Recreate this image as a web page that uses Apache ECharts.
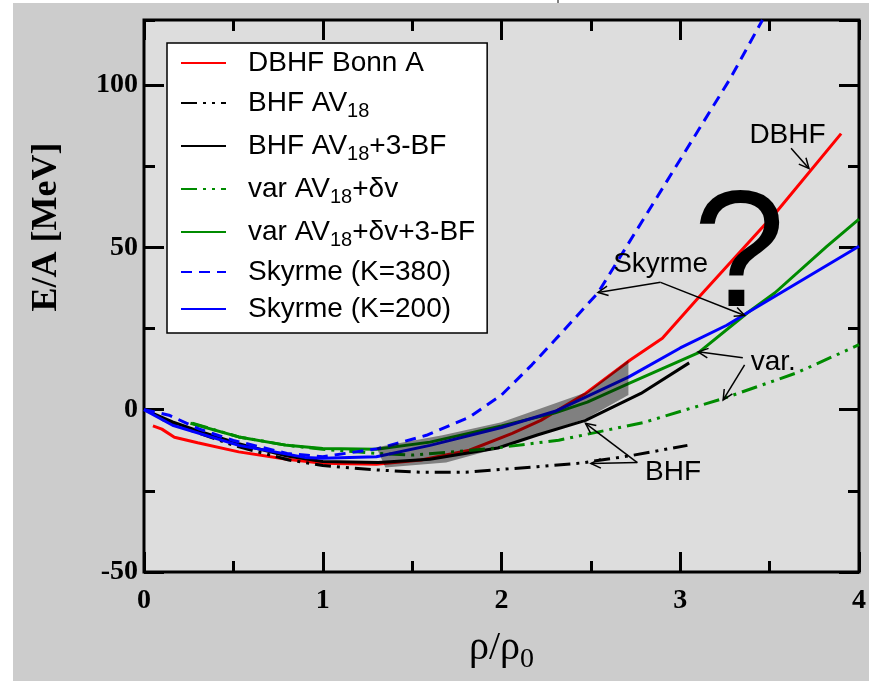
<!DOCTYPE html>
<html>
<head>
<meta charset="utf-8">
<script src="https://cdn.jsdelivr.net/npm/echarts@6/dist/echarts.min.js"></script>
<style>
  html, body { margin: 0; padding: 0; background: #fff; }
  #main { width: 869px; height: 681px; }
</style>
</head>
<body>
<div id="main"></div>
<script>
// curves: [rho/rho0, E/A]
var dbhfBonnA = [[0.05,-5],[0.1,-6],[0.17,-8.5],[0.3,-10.2],[0.53,-13],[0.8,-15.3],[1.0,-16.5],[1.3,-16.8],[1.55,-15.5],[1.82,-12.5],[2.06,-7.3],[2.22,-3.3],[2.47,5],[2.72,15.3],[2.9,22],[3.11,35],[3.54,61],[3.9,85]];
var bhfAv18 = [[0.1,-3],[0.27,-6.5],[0.5,-11],[0.81,-15.5],[1.0,-17.2],[1.28,-18.5],[1.55,-19.3],[1.8,-19.3],[2.0,-18.4],[2.2,-17.6],[2.45,-16.4],[2.72,-14.2],[3.04,-11]];
var bhfAv18Tbf = [[0,0],[0.16,-3.8],[0.3,-6.5],[0.53,-10.5],[0.8,-14.3],[1.0,-16],[1.31,-16.3],[1.6,-15.3],[1.98,-11.8],[2.2,-7.8],[2.47,-3.3],[2.78,5],[3.05,14.4]];
var varAv18 = [[0.27,-4.2],[0.53,-8.4],[0.8,-11],[1.0,-12.2],[1.31,-13.5],[1.5,-14],[1.94,-12],[2.32,-9.4],[2.8,-3.9],[3.25,3.6],[3.65,11.3],[4.0,20]];
var varAv18Tbf = [[0.26,-4.2],[0.53,-8.4],[0.8,-11],[1.0,-12],[1.3,-12.2],[1.6,-10],[2.0,-5],[2.3,-1],[2.48,2.3],[2.71,8],[3.1,17.5],[3.38,30],[3.53,36],[3.82,50.3],[4.0,58.7]];
var skyrme380 = [[0,0],[0.14,-1.7],[0.31,-6],[0.5,-9.5],[0.8,-13.5],[1.0,-14.5],[1.31,-12],[1.58,-7.9],[1.82,-2.3],[2.0,4.5],[2.17,13.8],[2.3,21.5],[2.54,36],[2.91,69],[3.28,102],[3.46,120]];
var skyrme200 = [[0,0],[0.16,-4.8],[0.53,-11],[0.9,-14.7],[1.0,-15],[1.3,-14.5],[1.6,-11],[2.0,-5.5],[2.3,-0.5],[2.71,10],[3.0,19],[3.26,26],[3.38,30],[4.0,50.3]];

// shaded band
var bandUpper = [[1.3,-11.6],[1.67,-7.9],[2.0,-3.9],[2.48,5.4],[2.71,15.3]];
var bandLower = [[1.35,-17.8],[1.69,-16.3],[2.04,-11],[2.48,-2.6],[2.71,4.5]];

// annotations
var noteText = ['DBHF', 'Skyrme', 'var.', 'BHF', '?'];
var notePos = [[3.6,84.4],[2.89,44.8],[3.52,14.7],[2.96,-19.4],[3.33,46]];
var arrows = [
  [3.62,80.5,3.72,74.3],
  [2.89,39.2,2.54,36.1],
  [2.89,39.2,3.36,29],
  [3.35,16,3.1,17.8],
  [3.36,13.8,3.24,3],
  [2.76,-16.3,2.47,-4.2],
  [2.76,-16.3,2.5,-16.6]
];

var chart = echarts.init(document.getElementById('main'));

var GREEN = '#008b00';
var dashDot = [16, 6, 3, 6, 3, 6];

function lineSeries(name, data, color, type) {
  return {
    name: name, type: 'line', data: data, symbol: 'none',
    xAxisIndex: 0, yAxisIndex: 0, z: 3,
    lineStyle: {color: color, width: 3, type: type || 'solid'},
    itemStyle: {color: color}
  };
}

function axisBase(pos, interval, len) {
  var vert = pos === 'left' || pos === 'right';
  return {
    type: 'value', position: pos,
    min: vert ? -50 : 0,
    max: vert ? 120 : 4,
    interval: interval,
    axisLine: {show: false, onZero: false},
    axisTick: {show: true, inside: true, length: len, lineStyle: {color: '#000', width: 3}},
    axisLabel: {show: false},
    splitLine: {show: false}
  };
}

var x0 = axisBase('bottom', 1, 20);
x0.axisLabel = {show: true, margin: 15, color: '#000', fontFamily: 'Liberation Serif', fontWeight: 'bold', fontSize: 28};
x0.name = 'ρ/ρ{s|0}';
x0.nameLocation = 'middle';
x0.nameGap = 50;
x0.nameTextStyle = {color: '#000', fontFamily: 'Liberation Serif', fontSize: 40,
  rich: {s: {fontFamily: 'Liberation Serif', fontSize: 28, padding: [24, 0, 0, 0], color: '#000'}}};

var y0 = axisBase('left', 50, 20);
y0.axisLabel = {show: true, margin: 6, color: '#000', fontFamily: 'Liberation Serif', fontWeight: 'bold', fontSize: 28, showMaxLabel: false};

var option = {
  backgroundColor: '#cccccc',
  animation: false,
  grid: {left: 144, right: 7, top: 20, bottom: 109, show: true, backgroundColor: '#dddddd', borderColor: '#000', borderWidth: 3},
  graphic: [
    {type: 'rect', shape: {x: 0, y: 0, width: 869, height: 3}, style: {fill: '#fff'}},
    {type: 'rect', shape: {x: 0, y: 0, width: 13, height: 681}, style: {fill: '#fff'}},
    {type: 'line', shape: {x1: 558, y1: 0, x2: 558, y2: 3}, style: {stroke: '#000', lineWidth: 1}},
    {type: 'text', x: 47, y: 227, rotation: Math.PI / 2,
      style: {text: 'E/A [MeV]', fill: '#000', font: 'bold 36px "Liberation Serif"', align: 'center', verticalAlign: 'middle'}}
  ],
  legend: {
    left: 167, top: 43, orient: 'vertical',
    backgroundColor: '#fff', borderColor: '#000', borderWidth: 1.5, borderRadius: 0,
    padding: [5, 12, 9, 13],
    itemWidth: 45, itemHeight: 14, itemGap: 7,
    itemStyle: {opacity: 0},
    data: ['DBHF Bonn A', 'BHF AV18', 'BHF AV18+3-BF', 'var AV18+δv', 'var AV18+δv+3-BF', 'Skyrme (K=380)', 'Skyrme (K=200)'],
    formatter: function (name) { return name.replace('AV18', 'AV{s|18}'); },
    textStyle: {color: '#000', fontFamily: 'Liberation Sans', fontSize: 28, lineHeight: 30, padding: [0, 0, 0, 17],
      rich: {s: {fontFamily: 'Liberation Sans', fontSize: 20, lineHeight: 20, padding: [16, 0, 0, 0], color: '#000'}}}
  },
  xAxis: [x0, axisBase('bottom', 0.5, 11), axisBase('top', 1, 20), axisBase('top', 0.5, 11)],
  yAxis: [y0, axisBase('left', 25, 11), axisBase('right', 50, 20), axisBase('right', 25, 11)],
  series: [
    lineSeries('DBHF Bonn A', dbhfBonnA, '#ff0000'),
    lineSeries('BHF AV18', bhfAv18, '#000', dashDot),
    lineSeries('BHF AV18+3-BF', bhfAv18Tbf, '#000'),
    lineSeries('var AV18+δv', varAv18, GREEN, dashDot),
    lineSeries('var AV18+δv+3-BF', varAv18Tbf, GREEN),
    lineSeries('Skyrme (K=380)', skyrme380, '#0000ff', [11, 7]),
    lineSeries('Skyrme (K=200)', skyrme200, '#0000ff'),
    {
      type: 'custom', xAxisIndex: 0, yAxisIndex: 0, z: 5, silent: true,
      data: [0],
      renderItem: function (params, api) {
        var pts = bandUpper.map(function (p) { return api.coord(p); });
        bandLower.slice().reverse().forEach(function (p) { pts.push(api.coord(p)); });
        return {type: 'polygon', shape: {points: pts}, style: {fill: 'rgba(0,0,0,0.42)'}};
      }
    },
    {
      type: 'custom', xAxisIndex: 0, yAxisIndex: 0, z: 6, silent: true,
      data: arrows,
      renderItem: function (params, api) {
        var a = api.coord([api.value(0), api.value(1)]);
        var b = api.coord([api.value(2), api.value(3)]);
        var ang = Math.atan2(b[1] - a[1], b[0] - a[0]);
        var L = 11, w = 0.45;
        var h1 = [b[0] - L * Math.cos(ang - w), b[1] - L * Math.sin(ang - w)];
        var h2 = [b[0] - L * Math.cos(ang + w), b[1] - L * Math.sin(ang + w)];
        return {type: 'group', children: [
          {type: 'line', shape: {x1: a[0], y1: a[1], x2: b[0], y2: b[1]}, style: {stroke: '#000', lineWidth: 1.5}},
          {type: 'polyline', shape: {points: [h1, b, h2]}, style: {stroke: '#000', lineWidth: 1.5, fill: null}}
        ]};
      }
    },
    {
      type: 'custom', xAxisIndex: 0, yAxisIndex: 0, z: 7, silent: true,
      data: notePos,
      renderItem: function (params, api) {
        var p = api.coord([api.value(0), api.value(1)]);
        var t = noteText[params.dataIndex];
        var font = t === '?' ? '166px "Liberation Sans"' : '28px "Liberation Sans"';
        return {type: 'text', x: p[0], y: p[1],
          style: {text: t, fill: '#000', font: font, align: 'center', verticalAlign: 'middle'}};
      }
    }
  ]
};

chart.setOption(option);
</script>
</body>
</html>
